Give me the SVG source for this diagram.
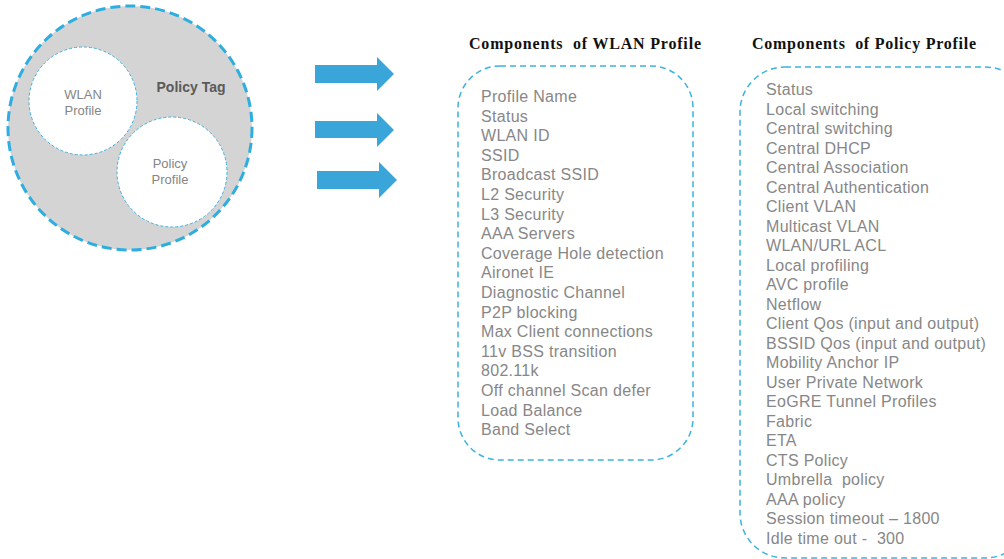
<svg xmlns="http://www.w3.org/2000/svg" width="1004" height="559" viewBox="0 0 1004 559" xml:space="preserve">
<style>
.item{font-family:"Liberation Sans",Arial,sans-serif;font-size:16px;letter-spacing:0.3px;fill:#878787;white-space:pre}
.title{font-family:"Liberation Serif","Times New Roman",serif;font-size:16px;font-weight:bold;fill:#111;white-space:pre}
.circ{font-family:"Liberation Sans",Arial,sans-serif;font-size:13px;fill:#858585;text-anchor:middle}
.box{fill:#fff;stroke:#3cb2e0;stroke-width:1.5;stroke-dasharray:6 4}
.inner{fill:#fff;stroke:#3cb2e0;stroke-width:1;stroke-dasharray:3 2}
.arrow{fill:#3aa5d8}
</style>
<rect width="1004" height="559" fill="#fff"/>
<g id="policy-tag">
<circle cx="130" cy="128" r="122" fill="#d4d4d4" stroke="#2eaee0" stroke-width="3" stroke-dasharray="10 5"/>
<text x="191" y="92" font-family="Liberation Sans,Arial,sans-serif" font-size="14" font-weight="bold" fill="#5a5a5a" text-anchor="middle">Policy Tag</text>
</g>
<g id="wlan-profile-circle">
<circle cx="83" cy="101" r="54" class="inner"/>
<text class="circ" x="83" y="99">WLAN</text>
<text class="circ" x="83" y="115">Profile</text>
</g>
<g id="policy-profile-circle">
<circle cx="172" cy="172" r="55" class="inner"/>
<text class="circ" x="170" y="168">Policy</text>
<text class="circ" x="170" y="184">Profile</text>
</g>
<g id="connectors">
<polygon class="arrow" points="315,65 377,65 377,57 394,74 377,91 377,83 315,83"/>
<polygon class="arrow" points="315,121 377,121 377,113 394,130 377,147 377,138 315,138"/>
<polygon class="arrow" points="317,171 379,171 379,162 397,180 379,198 379,189 317,189"/>
</g>
<g id="wlan-components">
<text class="title" x="469" y="49" textLength="232" lengthAdjust="spacing">Components&#160; of WLAN Profile</text>
<rect class="box" x="458" y="66" width="235" height="394" rx="42"/>
<g class="item">
<text x="481" y="102">Profile Name</text>
<text x="481" y="121.6">Status</text>
<text x="481" y="141.2">WLAN ID</text>
<text x="481" y="160.8">SSID</text>
<text x="481" y="180.4">Broadcast SSID</text>
<text x="481" y="200">L2 Security</text>
<text x="481" y="219.6">L3 Security</text>
<text x="481" y="239.2">AAA Servers</text>
<text x="481" y="258.8">Coverage Hole detection</text>
<text x="481" y="278.4">Aironet IE</text>
<text x="481" y="298">Diagnostic Channel</text>
<text x="481" y="317.6">P2P blocking</text>
<text x="481" y="337.2">Max Client connections</text>
<text x="481" y="356.8">11v BSS transition</text>
<text x="481" y="376.4">802.11k</text>
<text x="481" y="396">Off channel Scan defer</text>
<text x="481" y="415.6">Load Balance</text>
<text x="481" y="435.2">Band Select</text>
</g>
</g>
<g id="policy-components">
<text class="title" x="752" y="49" textLength="224" lengthAdjust="spacing">Components&#160; of Policy Profile</text>
<rect class="box" x="740" y="67" width="290" height="491" rx="45"/>
<g class="item">
<text x="766" y="95">Status</text>
<text x="766" y="114.5">Local switching</text>
<text x="766" y="134">Central switching</text>
<text x="766" y="153.5">Central DHCP</text>
<text x="766" y="173">Central Association</text>
<text x="766" y="192.5">Central Authentication</text>
<text x="766" y="212">Client VLAN</text>
<text x="766" y="231.5">Multicast VLAN</text>
<text x="766" y="251">WLAN/URL ACL</text>
<text x="766" y="270.5">Local profiling</text>
<text x="766" y="290">AVC profile</text>
<text x="766" y="309.5">Netflow</text>
<text x="766" y="329">Client Qos (input and output)</text>
<text x="766" y="348.5">BSSID Qos (input and output)</text>
<text x="766" y="368">Mobility Anchor IP</text>
<text x="766" y="387.5">User Private Network</text>
<text x="766" y="407">EoGRE Tunnel Profiles</text>
<text x="766" y="426.5">Fabric</text>
<text x="766" y="446">ETA</text>
<text x="766" y="465.5">CTS Policy</text>
<text x="766" y="485">Umbrella&#160; policy</text>
<text x="766" y="504.5">AAA policy</text>
<text x="766" y="524">Session timeout – 1800</text>
<text x="766" y="543.5">Idle time out -&#160;&#160;300</text>
</g>
</g>
</svg>
